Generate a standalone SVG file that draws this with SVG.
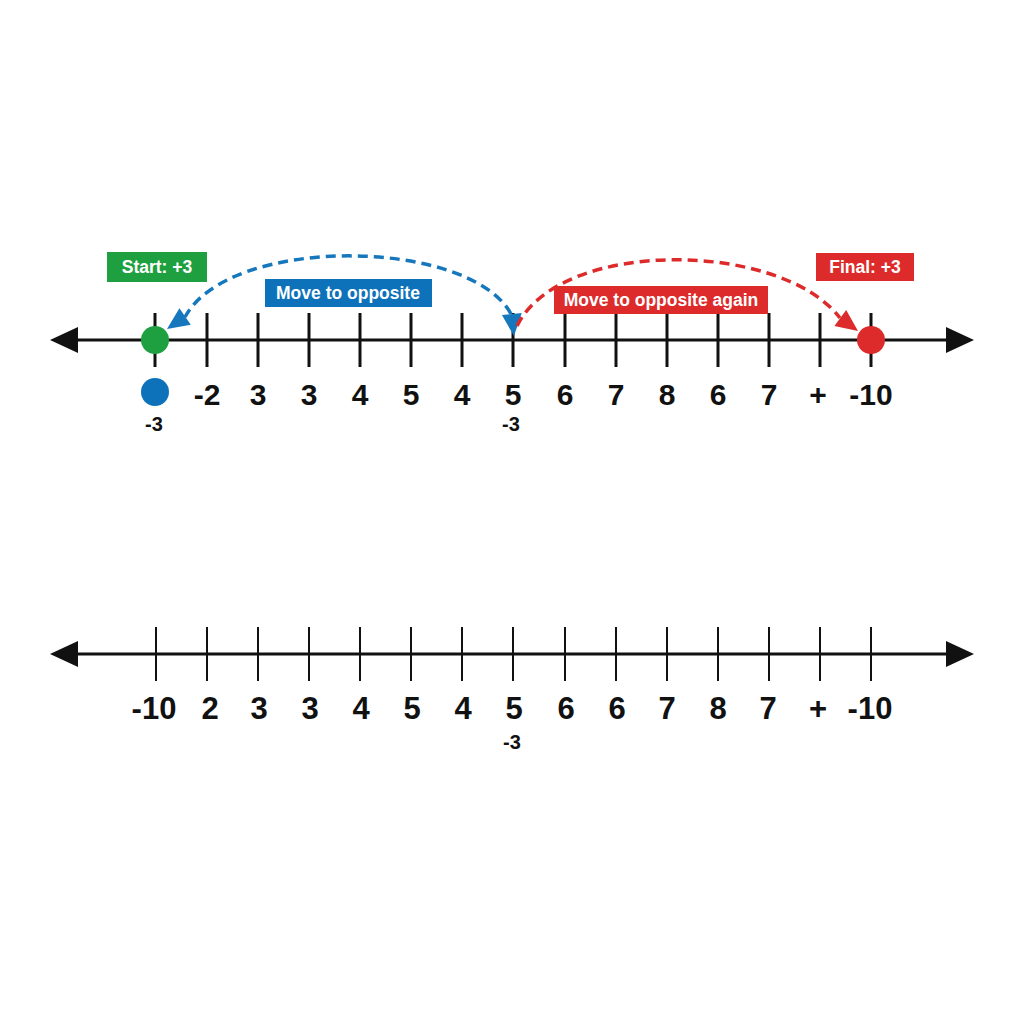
<svg xmlns="http://www.w3.org/2000/svg" width="1024" height="1024" viewBox="0 0 1024 1024">
<defs>
<style>
.axis{stroke:#111;stroke-width:3;fill:none}
.tick{stroke:#111;stroke-width:3}
.tick2{stroke:#111;stroke-width:2}
.num{font-family:"Liberation Sans",Arial,sans-serif;font-weight:bold;font-size:30px;fill:#111;text-anchor:middle}
.num2{font-family:"Liberation Sans",Arial,sans-serif;font-weight:bold;font-size:31px;fill:#111;text-anchor:middle}
.small{font-family:"Liberation Sans",Arial,sans-serif;font-weight:bold;font-size:20px;fill:#111;text-anchor:middle}
.lbl{font-family:"Liberation Sans",Arial,sans-serif;font-weight:bold;font-size:17.5px;fill:#fff;text-anchor:middle}
.dashb{fill:none;stroke:#1677bd;stroke-width:3.5;stroke-dasharray:10,6}
.dashr{fill:none;stroke:#dd2a2a;stroke-width:3.5;stroke-dasharray:10,6}
</style>
</defs>
<rect width="1024" height="1024" fill="#fff"/>

<g id="axis-top">
<line class="axis" x1="70" y1="340" x2="955" y2="340"/>
<polygon points="50,340 78,327 78,353" fill="#111"/>
<polygon points="974,340 946,327 946,353" fill="#111"/>
<g class="tick">
<line x1="155" y1="313" x2="155" y2="367"/><line x1="207" y1="313" x2="207" y2="367"/><line x1="258" y1="313" x2="258" y2="367"/><line x1="309" y1="313" x2="309" y2="367"/><line x1="360" y1="313" x2="360" y2="367"/><line x1="411" y1="313" x2="411" y2="367"/><line x1="462" y1="313" x2="462" y2="367"/><line x1="513" y1="313" x2="513" y2="367"/><line x1="565" y1="313" x2="565" y2="367"/><line x1="616" y1="313" x2="616" y2="367"/><line x1="667" y1="313" x2="667" y2="367"/><line x1="718" y1="313" x2="718" y2="367"/><line x1="769" y1="313" x2="769" y2="367"/><line x1="820" y1="313" x2="820" y2="367"/><line x1="871" y1="313" x2="871" y2="367"/>
</g>
<g>
<text class="num" x="207" y="405">-2</text><text class="num" x="258" y="405">3</text><text class="num" x="309" y="405">3</text><text class="num" x="360" y="405">4</text><text class="num" x="411" y="405">5</text><text class="num" x="462" y="405">4</text><text class="num" x="513" y="405">5</text><text class="num" x="565" y="405">6</text><text class="num" x="616" y="405">7</text><text class="num" x="667" y="405">8</text><text class="num" x="718" y="405">6</text><text class="num" x="769" y="405">7</text><text class="num" x="818" y="405">+</text><text class="num" x="871" y="405">-10</text>
<text class="small" x="154" y="431">-3</text>
<text class="small" x="511" y="431">-3</text>
</g>
</g>

<g id="connectors">
<path class="dashb" d="M511,314 C470,238 230,234 185,317"/>
<polygon points="167,329 179.4,308.3 190.8,324.7" fill="#1677bd"/>
<polygon points="514,336 501.9,315.1 521.7,313.1" fill="#1677bd"/>
<path class="dashr" d="M517,326 C560,238 780,240 840,318"/>
<polygon points="858,331 834.4,326.1 846.2,309.9" fill="#dd2a2a"/>
</g>

<g id="start-point"><circle cx="155" cy="340" r="14" fill="#1fa040"/></g>
<g id="opposite-point"><circle cx="155" cy="392" r="14" fill="#0e72bb"/></g>
<g id="final-point"><circle cx="871" cy="340" r="14" fill="#dd2a2a"/></g>

<g id="label-start"><rect x="107" y="252" width="100" height="30" fill="#1fa040"/><text class="lbl" x="157" y="273">Start: +3</text></g>
<g id="label-move"><rect x="265" y="279" width="167" height="28" fill="#0e72bb"/><text class="lbl" x="348" y="299">Move to opposite</text></g>
<g id="label-again"><rect x="554" y="286" width="214" height="28" fill="#dd2a2a"/><text class="lbl" x="661" y="306">Move to opposite again</text></g>
<g id="label-final"><rect x="816" y="253" width="98" height="28" fill="#dd2a2a"/><text class="lbl" x="865" y="273">Final: +3</text></g>

<g id="axis-bottom">
<line class="axis" x1="70" y1="654" x2="955" y2="654"/>
<polygon points="50,654 78,641 78,667" fill="#111"/>
<polygon points="974,654 946,641 946,667" fill="#111"/>
<g class="tick2">
<line x1="156" y1="627" x2="156" y2="681"/><line x1="207" y1="627" x2="207" y2="681"/><line x1="258" y1="627" x2="258" y2="681"/><line x1="309" y1="627" x2="309" y2="681"/><line x1="360" y1="627" x2="360" y2="681"/><line x1="411" y1="627" x2="411" y2="681"/><line x1="462" y1="627" x2="462" y2="681"/><line x1="513" y1="627" x2="513" y2="681"/><line x1="565" y1="627" x2="565" y2="681"/><line x1="616" y1="627" x2="616" y2="681"/><line x1="667" y1="627" x2="667" y2="681"/><line x1="718" y1="627" x2="718" y2="681"/><line x1="769" y1="627" x2="769" y2="681"/><line x1="820" y1="627" x2="820" y2="681"/><line x1="871" y1="627" x2="871" y2="681"/>
</g>
<g>
<text class="num2" x="154" y="719">-10</text><text class="num2" x="210" y="719">2</text><text class="num2" x="259" y="719">3</text><text class="num2" x="310" y="719">3</text><text class="num2" x="361" y="719">4</text><text class="num2" x="412" y="719">5</text><text class="num2" x="463" y="719">4</text><text class="num2" x="514" y="719">5</text><text class="num2" x="566" y="719">6</text><text class="num2" x="617" y="719">6</text><text class="num2" x="667" y="719">7</text><text class="num2" x="718" y="719">8</text><text class="num2" x="768" y="719">7</text><text class="num2" x="818" y="719">+</text><text class="num2" x="870" y="719">-10</text>
<text class="small" x="512" y="749">-3</text>
</g>
</g>
</svg>
